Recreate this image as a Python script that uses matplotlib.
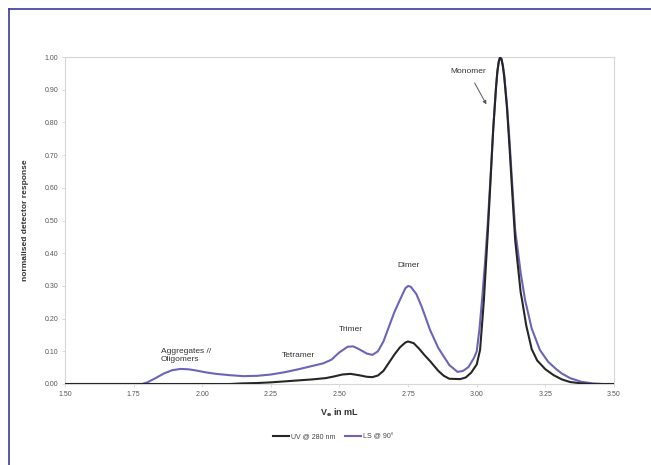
import matplotlib
matplotlib.use("Agg")
import matplotlib.pyplot as plt
from matplotlib.lines import Line2D

# elution volume (mL) / normalised response, light scattering @ 90 deg
ls_ve = [1.50, 1.60, 1.70, 1.78, 1.80, 1.83, 1.86, 1.89, 1.92, 1.95, 1.98,
         2.01, 2.05, 2.10, 2.15, 2.20, 2.25, 2.30, 2.35, 2.40, 2.44, 2.47, 2.50,
         2.53, 2.55, 2.57, 2.60, 2.62, 2.64, 2.66, 2.68, 2.70, 2.72, 2.74, 2.75,
         2.76, 2.78, 2.80, 2.83, 2.86, 2.90, 2.93, 2.95, 2.97, 2.99, 3.00, 3.01,
         3.02, 3.03, 3.04, 3.05, 3.06, 3.07, 3.075, 3.08, 3.085, 3.09, 3.095, 3.10, 3.11, 3.12,
         3.13, 3.14, 3.16, 3.176, 3.20, 3.23, 3.26, 3.29, 3.31, 3.34, 3.38, 3.42,
         3.46, 3.50]
ls_resp = [0.0, 0.0, 0.0, 0.0, 0.005, 0.018, 0.032, 0.042, 0.046, 0.045, 0.041,
           0.036, 0.031, 0.027, 0.024, 0.025, 0.029, 0.036, 0.045, 0.055, 0.063, 0.074, 0.097,
           0.114, 0.115, 0.107, 0.093, 0.089, 0.100, 0.130, 0.175, 0.220, 0.257, 0.293, 0.300,
           0.297, 0.275, 0.235, 0.165, 0.110, 0.058, 0.037, 0.040, 0.052, 0.080, 0.100, 0.170,
           0.265, 0.370, 0.490, 0.630, 0.780, 0.905, 0.955, 0.985, 1.000, 0.995, 0.975, 0.945, 0.855, 0.735,
           0.600, 0.470, 0.340, 0.257, 0.170, 0.104, 0.068, 0.045, 0.032, 0.018, 0.007, 0.002,
           0.0, 0.0]

# UV absorbance @ 280 nm
uv_ve = [1.50, 1.70, 1.90, 2.10, 2.15, 2.20, 2.25, 2.30, 2.35, 2.40, 2.45, 2.48,
         2.51, 2.54, 2.57, 2.60, 2.62, 2.64, 2.66, 2.68, 2.70, 2.72, 2.74, 2.75,
         2.77, 2.79, 2.81, 2.83, 2.86, 2.88, 2.90, 2.94, 2.96, 2.98, 3.00, 3.012,
         3.02, 3.026, 3.04, 3.05, 3.06, 3.07, 3.075, 3.08, 3.085, 3.09, 3.095, 3.10, 3.11, 3.12,
         3.13, 3.14, 3.16, 3.165, 3.18, 3.20, 3.22, 3.25, 3.28, 3.31, 3.34, 3.38,
         3.42, 3.50]
uv_resp = [0.0, 0.0, 0.0, 0.0, 0.002, 0.003, 0.005, 0.008, 0.011, 0.014, 0.018, 0.023,
           0.029, 0.031, 0.027, 0.022, 0.021, 0.026, 0.040, 0.065, 0.090, 0.112, 0.127, 0.130,
           0.125, 0.108, 0.088, 0.070, 0.040, 0.025, 0.016, 0.015, 0.020, 0.035, 0.060, 0.104,
           0.190, 0.257, 0.460, 0.620, 0.780, 0.905, 0.955, 0.985, 1.000, 0.993, 0.972, 0.940, 0.845, 0.715,
           0.575, 0.440, 0.280, 0.257, 0.180, 0.107, 0.072, 0.045, 0.027, 0.014, 0.006, 0.002,
           0.0, 0.0]

peak_names = ["Aggregates //\nOligomers", "Tetramer", "Trimer", "Dimer"]
peak_pos = [(1.85, 0.087), (2.35, 0.087), (2.54, 0.167), (2.75, 0.362)]

x_ticks = [1.50, 1.75, 2.00, 2.25, 2.50, 2.75, 3.00, 3.25, 3.50]
y_ticks = [0.0, 0.1, 0.2, 0.3, 0.4, 0.5, 0.6, 0.7, 0.8, 0.9, 1.0]

UV_COL, LS_COL = "#262626", "#6b64b8"
FRAME = "#3a3a9e"

plt.rcParams.update({"font.family": "Liberation Sans", "font.size": 6})

fig = plt.figure(figsize=(6.51, 4.65), dpi=100)
ax = fig.add_axes([0.0998, 0.1742, 0.8434, 0.7032])

ax.plot(uv_ve, uv_resp, color=UV_COL, lw=1.5, label="UV @ 280 nm", zorder=3)
ax.plot(ls_ve, ls_resp, color=LS_COL, lw=1.5, label="LS @ 90°", zorder=2)

ax.set_xlim(1.5, 3.5)
ax.set_ylim(0, 1.0)
ax.set_xticks(x_ticks)
ax.set_xticklabels([f"{t:.2f}" for t in x_ticks])
ax.set_yticks(y_ticks)
ax.set_yticklabels([f"{t:.2f}" for t in y_ticks])
ax.tick_params(labelsize=5, colors="#555555", length=2, width=0.5, pad=3)
ax.tick_params(axis="x", color="#cccccc")
ax.tick_params(axis="y", color="#cccccc")
for s in ax.spines.values():
    s.set_color("#d6d6d6")
    s.set_linewidth(0.8)

ax.set_xlabel("V$_\\mathbf{e}$ in mL", fontsize=6.5, fontweight="bold", color="#333333", labelpad=6)
ax.set_ylabel("normalised detector response", fontsize=6, fontweight="bold", color="#333333", labelpad=11)

for name, (xv, yv) in zip(peak_names, peak_pos):
    ha = "left" if "\n" in name else "center"
    ax.text(xv, yv, name, fontsize=6, color="#333333", ha=ha, va="center", linespacing=1.35)

ax.annotate("Monomer", xy=(3.035, 0.855), xytext=(2.97, 0.955), fontsize=6, color="#333333",
            ha="center", va="center",
            arrowprops=dict(arrowstyle="-|>", color="#555555", lw=0.7, mutation_scale=5,
                            shrinkA=4, shrinkB=0))

handles = [Line2D([], [], color=UV_COL, lw=1.5), Line2D([], [], color=LS_COL, lw=1.5)]
fig.legend(handles, ["UV @ 280 nm", "LS @ 90°"], loc="center", bbox_to_anchor=(0.512, 0.06),
           ncol=2, frameon=False, fontsize=5, handlelength=2.2, handletextpad=0.3, columnspacing=1.5,
           labelcolor="#444444")

# page frame, open to the right and bottom
fig.add_artist(Line2D([9 / 651, 9 / 651], [0, 1 - 9 / 465], color=FRAME, lw=1.2))
fig.add_artist(Line2D([9 / 651, 1], [1 - 9 / 465, 1 - 9 / 465], color=FRAME, lw=1.2))

fig.savefig("out.png", dpi=100, facecolor="white")
